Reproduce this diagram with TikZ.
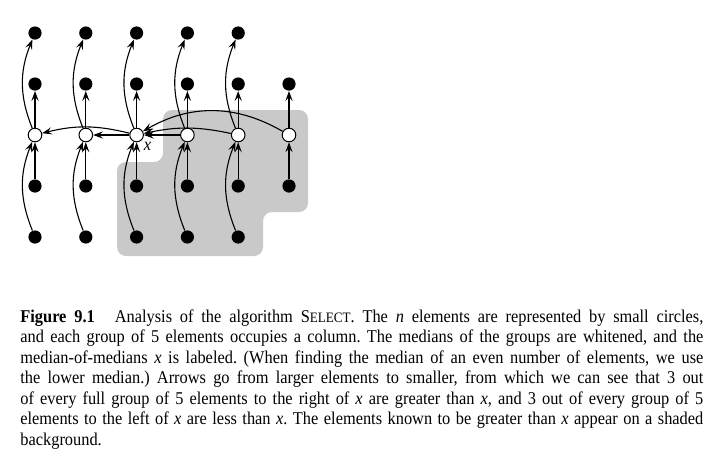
\documentclass[tikz,border=0pt]{standalone}
\usepackage{fontspec}
\setmainfont{Liberation Serif}[FakeStretch=0.91]
\usetikzlibrary{arrows.meta,positioning}

\newcommand{\selectsc}{S{\fontsize{7.2}{10.25}\selectfont ELECT}}

\begin{document}
\frenchspacing
\begin{tikzpicture}[x=0.5pt, y=-0.5pt,
    >={Stealth[length=5pt, width=3.6pt, inset=2pt]},
    dot/.style={circle, fill=black, inner sep=0pt, minimum size=6.6pt},
    med/.style={circle, draw, fill=white, line width=0.5pt, inner sep=0pt, minimum size=6.8pt},
    arr/.style={->, line width=0.55pt},
    shade/.style={fill=black!21, rounded corners=4.5pt}]
  \useasboundingbox (0,0) rectangle (723,468);
  \fill[shade] (117,162) -- (163,162) -- (163,110) -- (308,110) -- (308,212) -- (263,212) -- (263,256) -- (117,256) -- cycle;
  \foreach \g in {1,...,5}
    \foreach \r in {1,2,4,5}
      \node[dot] (g\g-\r) at ({35+50.8*(\g-1)}, {33+51*(\r-1)}) {};
  \foreach \g in {1,...,6}
    \node[med] (g\g-3) at ({35+50.8*(\g-1)}, 135) {};
  \node[dot] (g6-2) at (289,84) {};
  \node[dot] (g6-4) at (289,186) {};
  \node[anchor=north west, inner sep=0.8pt, font=\fontsize{9}{10}\selectfont\itshape] (xlab) at (g3-3.south east) {x};
  \foreach \g in {1,...,6} {
    \draw[arr] (g\g-4) -- (g\g-3);
    \draw[arr] (g\g-3) -- (g\g-2);
  }
  \foreach \g in {1,...,5} {
    \draw[arr] (g\g-5) to[bend left=22] (g\g-3);
    \draw[arr] (g\g-3) to[bend left=22] (g\g-1);
  }
  \draw[arr] (g3-3) -- (g2-3);
  \draw[arr] (g3-3) to[bend right=14] (g1-3);
  \draw[arr] (g4-3) -- (g3-3);
  \draw[arr] (g5-3) to[bend right=12] (g3-3);
  \draw[arr] (g6-3) to[bend right=30] (g3-3);
  \node[anchor=north west, text width=341.5pt, align=justify, inner sep=0pt,
        font=\fontsize{9}{10.25}\selectfont] (caption) at (20,309)
    {\textbf{Figure 9.1}\hspace{10pt}Analysis of the algorithm \selectsc. The \textit{n} elements are represented by small circles,\linebreak
     and each group of 5 elements occupies a column. The medians of the groups are whitened, and the\linebreak
     median-of-medians \textit{x} is labeled. (When finding the median of an even number of elements, we use\linebreak
     the lower median.) Arrows go from larger elements to smaller, from which we can see that 3 out\linebreak
     of every full group of 5 elements to the right of \textit{x} are greater than \textit{x}, and 3 out of every group of 5\linebreak
     elements to the left of \textit{x} are less than \textit{x}. The elements known to be greater than \textit{x} appear on a shaded\linebreak
     background.};
\end{tikzpicture}
\end{document}
